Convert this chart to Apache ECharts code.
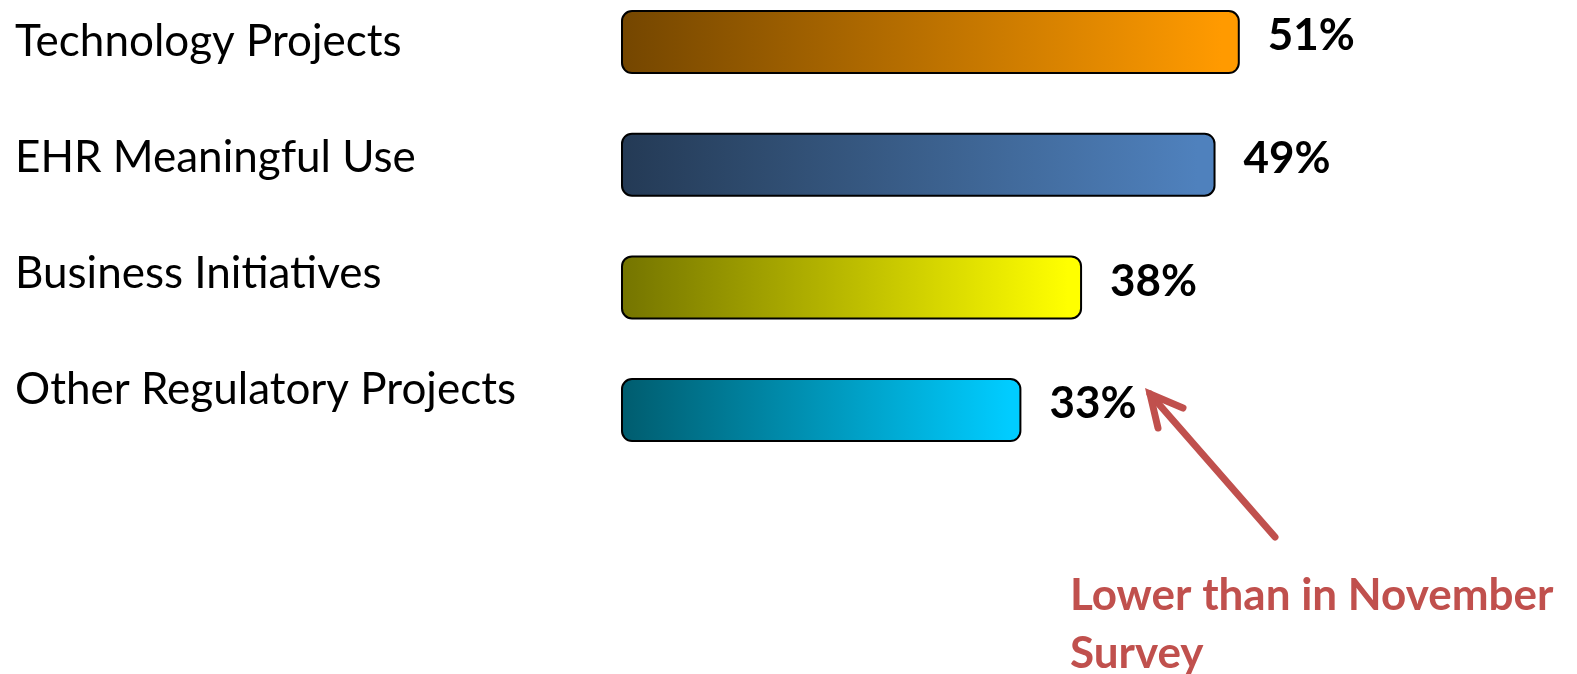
<!DOCTYPE html>
<html>
<head>
<meta charset="utf-8">
<style>
  html, body { margin: 0; padding: 0; background: #ffffff; }
  #chart { width: 1577px; height: 674px; }
</style>
<script src="https://cdn.jsdelivr.net/npm/echarts@6/dist/echarts.min.js"></script>
</head>
<body>
<div id="chart"></div>
<script>
// Survey categories, top to bottom
const categories = ['Technology Projects', 'EHR Meaningful Use', 'Business Initiatives', 'Other Regulatory Projects'];
// Share of respondents (%)
const values = [51, 49, 38, 33];
// Gradient end colours per bar: [dark left, bright right]
const barColors = [
  ['#744600', '#FF9A00'],
  ['#243A55', '#4F81BD'],
  ['#747400', '#FFFF00'],
  ['#005C6E', '#00CCFF']
];
const noteText = 'Lower than in November\nSurvey';
const noteColor = '#C0504D';

const chart = echarts.init(document.getElementById('chart'), null, { renderer: 'canvas' });

const barData = values.map((v, i) => ({
  value: v,
  itemStyle: {
    color: {
      type: 'linear', x: 0, y: 0, x2: 1, y2: 0,
      colorStops: [
        { offset: 0, color: barColors[i][0] },
        { offset: 0.97, color: barColors[i][1] },
        { offset: 1, color: barColors[i][1] }
      ]
    }
  }
}));

chart.setOption({
  animation: false,
  backgroundColor: '#ffffff',
  grid: [
    // bars
    { left: 621, width: 728, top: -19.3, height: 490.7, containLabel: false, outerBoundsMode: 'none' },
    // category captions
    { left: 15, width: 500, top: -15.6, height: 462.8, containLabel: false, outerBoundsMode: 'none' }
  ],
  xAxis: [
    { gridIndex: 0, type: 'value', min: 0, max: 60, show: false },
    { gridIndex: 1, type: 'value', min: 0, max: 1, show: false }
  ],
  yAxis: [
    { gridIndex: 0, type: 'category', inverse: true, data: categories, show: false },
    {
      gridIndex: 1, type: 'category', inverse: true, data: categories,
      axisLine: { show: false }, axisTick: { show: false }, splitLine: { show: false },
      axisLabel: {
        show: true, align: 'left', margin: 0, inside: false,
        fontFamily: 'Lato', fontSize: 44, color: '#000000'
      }
    }
  ],
  series: [{
    type: 'bar',
    xAxisIndex: 0, yAxisIndex: 0,
    data: barData,
    barWidth: 64,
    itemStyle: { borderColor: '#000000', borderWidth: 2, borderRadius: 10 },
    label: {
      show: true, position: 'right', distance: 28, offset: [0, -6],
      formatter: '{c}%',
      fontFamily: 'Lato', fontWeight: 'bold', fontSize: 44, color: '#000000'
    }
  }],
  graphic: [
    {
      type: 'text', left: 1070, top: 567,
      style: {
        text: noteText, fill: noteColor,
        font: 'bold 44px Lato', lineHeight: 58
      }
    },
    {
      type: 'polyline',
      shape: { points: [[1275, 537], [1150, 394]] },
      style: { stroke: noteColor, lineWidth: 7, lineCap: 'round' }
    },
    {
      type: 'polyline',
      shape: { points: [[1183, 408], [1150, 394], [1158, 428]] },
      style: { stroke: noteColor, lineWidth: 7, lineCap: 'round', lineJoin: 'miter', fill: null }
    }
  ]
});
</script>
</body>
</html>
